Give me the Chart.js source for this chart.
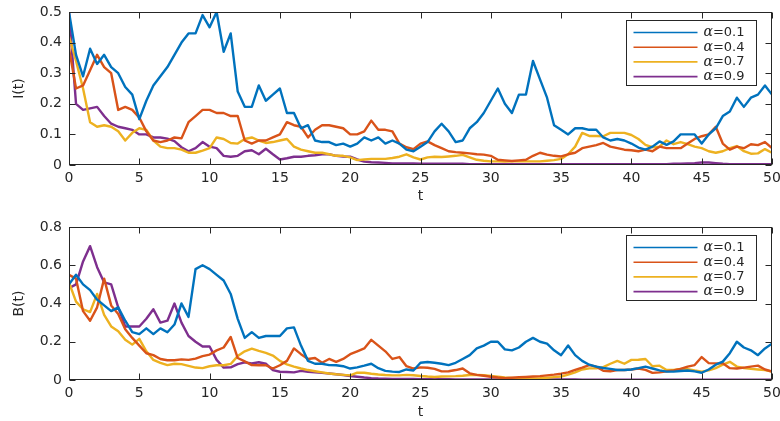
<!DOCTYPE html>
<html><head><meta charset="utf-8">
<script src="https://cdn.jsdelivr.net/npm/chart.js@4.4.0/dist/chart.umd.min.js"></script>
<style>
html,body{margin:0;padding:0;background:#fff;overflow:hidden;width:780px;height:421px}
canvas{position:absolute;left:0;display:block}
</style>
</head><body>
<canvas id="c1" width="780" height="210" style="top:0px"></canvas>
<canvas id="c2" width="780" height="211" style="top:210px"></canvas>
<script>
// ---- DATA ----
const tValues = [0,0.5,1,1.5,2,2.5,3,3.5,4,4.5,5,5.5,6,6.5,7,7.5,8,8.5,9,9.5,
10,10.5,11,11.5,12,12.5,13,13.5,14,14.5,15,15.5,16,16.5,17,17.5,18,18.5,19,19.5,
20,20.5,21,21.5,22,22.5,23,23.5,24,24.5,25,25.5,26,26.5,27,27.5,28,28.5,29,29.5,
30,30.5,31,31.5,32,32.5,33,33.5,34,34.5,35,35.5,36,36.5,37,37.5,38,38.5,39,39.5,
40,40.5,41,41.5,42,42.5,43,43.5,44,44.5,45,45.5,46,46.5,47,47.5,48,48.5,49,49.5,50];

const seriesLabels = ['α=0.1','α=0.4','α=0.7','α=0.9'];

const I_a01 = [0.50,0.36,0.29,0.38,0.33,0.36,0.32,0.30,0.255,0.23,
0.15,0.21,0.26,0.29,0.32,0.36,0.40,0.43,0.43,0.49,
0.45,0.50,0.37,0.43,0.24,0.19,0.19,0.26,0.21,0.23,
0.25,0.17,0.17,0.12,0.13,0.08,0.075,0.075,0.065,0.07,
0.06,0.07,0.09,0.08,0.09,0.07,0.08,0.07,0.05,0.045,
0.06,0.075,0.11,0.135,0.11,0.075,0.08,0.12,0.14,0.17,
0.21,0.25,0.20,0.17,0.23,0.23,0.34,0.28,0.22,0.13,
0.115,0.10,0.12,0.12,0.115,0.115,0.09,0.08,0.085,0.08,
0.07,0.057,0.05,0.06,0.077,0.066,0.077,0.10,0.10,0.10,
0.07,0.10,0.12,0.16,0.175,0.22,0.19,0.22,0.23,0.26,
0.23];
const I_a04 = [0.38,0.25,0.26,0.31,0.36,0.32,0.30,0.18,0.19,0.18,
0.155,0.11,0.08,0.075,0.08,0.09,0.087,0.14,0.16,0.18,
0.18,0.17,0.17,0.16,0.16,0.08,0.07,0.08,0.08,0.09,
0.10,0.14,0.13,0.125,0.09,0.115,0.13,0.13,0.125,0.12,
0.10,0.10,0.11,0.145,0.115,0.115,0.11,0.07,0.058,0.052,
0.07,0.077,0.065,0.055,0.045,0.042,0.04,0.038,0.035,0.034,
0.03,0.017,0.015,0.013,0.015,0.017,0.03,0.04,0.034,0.03,
0.028,0.035,0.04,0.055,0.06,0.065,0.072,0.06,0.055,0.05,
0.048,0.045,0.05,0.045,0.06,0.055,0.055,0.055,0.07,0.085,
0.094,0.10,0.125,0.07,0.05,0.06,0.055,0.068,0.065,0.075,
0.055];
const I_a07 = [0.42,0.34,0.25,0.14,0.125,0.13,0.125,0.11,0.08,0.105,
0.12,0.115,0.08,0.06,0.055,0.055,0.05,0.04,0.04,0.047,
0.055,0.09,0.085,0.072,0.07,0.085,0.09,0.08,0.072,0.075,
0.08,0.085,0.06,0.05,0.045,0.04,0.04,0.035,0.03,0.03,
0.025,0.016,0.018,0.02,0.02,0.02,0.023,0.027,0.035,0.025,
0.018,0.025,0.027,0.026,0.028,0.03,0.033,0.025,0.017,0.014,
0.012,0.012,0.011,0.012,0.012,0.012,0.012,0.012,0.014,0.016,
0.02,0.035,0.06,0.105,0.095,0.095,0.094,0.105,0.105,0.105,
0.098,0.085,0.066,0.058,0.06,0.08,0.068,0.075,0.068,0.06,
0.055,0.045,0.04,0.045,0.055,0.062,0.045,0.037,0.038,0.052,
0.04];
const I_a09 = [0.50,0.20,0.18,0.185,0.19,0.16,0.135,0.125,0.12,0.115,
0.10,0.10,0.09,0.09,0.086,0.078,0.058,0.045,0.055,0.075,
0.06,0.055,0.03,0.027,0.03,0.045,0.048,0.035,0.053,0.035,
0.018,0.022,0.027,0.027,0.03,0.032,0.035,0.035,0.03,0.028,
0.027,0.018,0.011,0.009,0.008,0.007,0.005,0.005,0.005,0.005,
0.004,0.004,0.004,0.004,0.004,0.004,0.004,0.003,0.003,0.003,
0.003,0.003,0.003,0.003,0.003,0.003,0.003,0.003,0.003,0.003,
0.003,0.003,0.003,0.003,0.003,0.003,0.003,0.003,0.003,0.003,
0.003,0.003,0.003,0.003,0.003,0.003,0.004,0.004,0.005,0.006,
0.008,0.008,0.006,0.004,0.003,0.003,0.003,0.003,0.003,0.003,
0.003];

const B_a01 = [0.50,0.55,0.50,0.47,0.42,0.39,0.36,0.38,0.31,0.25,
0.24,0.27,0.24,0.27,0.25,0.29,0.40,0.33,0.58,0.60,
0.58,0.55,0.52,0.45,0.32,0.22,0.25,0.22,0.23,0.23,
0.23,0.27,0.275,0.18,0.10,0.085,0.085,0.078,0.077,0.072,
0.06,0.066,0.075,0.085,0.062,0.048,0.044,0.042,0.055,0.05,
0.09,0.094,0.09,0.085,0.078,0.09,0.11,0.13,0.165,0.18,
0.20,0.20,0.16,0.155,0.17,0.20,0.22,0.20,0.19,0.155,
0.13,0.18,0.13,0.10,0.08,0.07,0.063,0.058,0.052,0.052,
0.055,0.062,0.07,0.06,0.05,0.044,0.044,0.047,0.05,0.045,
0.038,0.055,0.08,0.096,0.14,0.20,0.17,0.155,0.13,0.165,
0.19];
const B_a04 = [0.55,0.53,0.36,0.31,0.38,0.53,0.39,0.345,0.265,0.22,
0.18,0.14,0.13,0.11,0.103,0.103,0.108,0.105,0.112,0.125,
0.133,0.155,0.17,0.225,0.115,0.097,0.078,0.077,0.077,0.06,
0.077,0.10,0.165,0.135,0.11,0.115,0.09,0.11,0.095,0.11,
0.135,0.15,0.165,0.21,0.18,0.15,0.11,0.12,0.072,0.06,
0.066,0.064,0.058,0.045,0.046,0.052,0.06,0.035,0.027,0.022,
0.017,0.013,0.01,0.012,0.014,0.016,0.018,0.02,0.024,0.028,
0.033,0.04,0.053,0.065,0.078,0.07,0.048,0.046,0.052,0.052,
0.055,0.06,0.053,0.037,0.04,0.045,0.05,0.058,0.07,0.078,
0.12,0.088,0.087,0.087,0.062,0.06,0.065,0.07,0.075,0.055,
0.044];
const B_a07 = [0.51,0.41,0.37,0.355,0.45,0.34,0.28,0.255,0.21,0.185,
0.215,0.15,0.105,0.09,0.078,0.085,0.083,0.074,0.065,0.062,
0.072,0.077,0.077,0.084,0.125,0.15,0.164,0.152,0.142,0.128,
0.10,0.082,0.07,0.06,0.052,0.046,0.04,0.034,0.03,0.027,
0.024,0.038,0.038,0.033,0.029,0.026,0.024,0.024,0.027,0.025,
0.021,0.018,0.016,0.018,0.019,0.02,0.022,0.026,0.027,0.025,
0.021,0.017,0.013,0.011,0.009,0.008,0.008,0.009,0.012,0.015,
0.018,0.028,0.04,0.055,0.061,0.061,0.067,0.085,0.10,0.085,
0.105,0.106,0.11,0.072,0.075,0.052,0.052,0.058,0.057,0.05,
0.044,0.05,0.062,0.08,0.095,0.07,0.063,0.058,0.055,0.052,
0.044];
const B_a09 = [0.48,0.50,0.62,0.70,0.59,0.51,0.50,0.38,0.28,0.28,
0.28,0.32,0.37,0.30,0.31,0.40,0.30,0.23,0.20,0.175,
0.175,0.105,0.065,0.066,0.083,0.092,0.086,0.093,0.085,0.052,
0.043,0.042,0.04,0.048,0.043,0.04,0.037,0.034,0.03,0.026,
0.021,0.017,0.013,0.01,0.008,0.007,0.006,0.005,0.005,0.005,
0.004,0.004,0.004,0.004,0.004,0.003,0.003,0.003,0.003,0.003,
0.003,0.003,0.003,0.003,0.003,0.003,0.003,0.003,0.003,0.003,
0.003,0.003,0.003,0.002,0.002,0.002,0.002,0.002,0.002,0.002,
0.002,0.002,0.002,0.002,0.002,0.002,0.002,0.002,0.002,0.002,
0.002,0.002,0.002,0.002,0.002,0.002,0.002,0.002,0.002,0.002,
0.002];

// ---- STYLE ----
const COLORS = ['#0072BD','#D95319','#EDB120','#7E2F8E'];
const FONT = "'DejaVu Sans', 'Liberation Sans', Arial, sans-serif";
const TXT = '#262626';

const frame = {
  id: 'frame',
  afterDatasetsDraw(chart) {
    const ctx = chart.ctx, a = chart.chartArea;
    const L = Math.round(a.left) + 0.5, R = Math.round(a.right) - 0.5;
    const T = Math.round(a.top) + 0.5, B = Math.round(a.bottom) - 0.5;
    ctx.save();
    ctx.strokeStyle = TXT; ctx.lineWidth = 1;
    ctx.strokeRect(L, T, R - L, B - T);
    const tl = 6;
    ctx.beginPath();
    chart.scales.x.ticks.forEach(tk => {
      const px = Math.round(chart.scales.x.getPixelForValue(tk.value)) + 0.5;
      ctx.moveTo(px, B); ctx.lineTo(px, B - tl);
      ctx.moveTo(px, T); ctx.lineTo(px, T + tl);
    });
    chart.scales.y.ticks.forEach(tk => {
      const py = Math.round(chart.scales.y.getPixelForValue(tk.value)) + 0.5;
      ctx.moveTo(L, py); ctx.lineTo(L + tl, py);
      ctx.moveTo(R, py); ctx.lineTo(R - tl, py);
    });
    ctx.stroke();
    ctx.restore();
  },
  afterDraw(chart) {
    const ctx = chart.ctx, a = chart.chartArea;
    const w = 130, h = 65;
    const x0 = Math.round(a.right) - 16 - w + 0.5, y0 = Math.round(a.top) + 8 + 0.5;
    ctx.save();
    ctx.fillStyle = '#fff';
    ctx.fillRect(x0, y0, w, h);
    ctx.strokeStyle = TXT; ctx.lineWidth = 1;
    ctx.strokeRect(x0, y0, w, h);
    chart.data.datasets.forEach((ds, i) => {
      const y = y0 + 12 + i * 14.7;
      ctx.strokeStyle = ds.borderColor; ctx.lineWidth = 1.6;
      ctx.beginPath(); ctx.moveTo(x0 + 7, y); ctx.lineTo(x0 + 71, y); ctx.stroke();
      const lab = ds.label;
      ctx.fillStyle = TXT; ctx.textBaseline = 'middle'; ctx.textAlign = 'left';
      ctx.font = "italic 14px 'DejaVu Serif', serif";
      const g = lab.charAt(0);
      ctx.fillText(g, x0 + 77, y);
      const gw = ctx.measureText(g).width;
      ctx.font = "13px " + FONT;
      ctx.fillText(lab.slice(1), x0 + 77 + gw, y);
    });
    ctx.restore();
  }
};

function makeChart(id, series, yMax, yStep, yLabel, padTop, xAxisH, xTitlePad) {
  const datasets = series.map((s, i) => ({
    label: seriesLabels[i],
    data: tValues.map((t, k) => ({x: t, y: s[k]})),
    borderColor: COLORS[i],
    backgroundColor: COLORS[i],
    borderWidth: 2.4,
    borderJoinStyle: 'round',
    pointRadius: 0,
    tension: 0,
    fill: false
  }));
  return new Chart(document.getElementById(id), {
    type: 'line',
    data: { datasets },
    options: {
      responsive: false,
      animation: false,
      devicePixelRatio: 1,
      layout: { padding: { left: 0, right: 8, top: padTop, bottom: 0 } },
      plugins: { legend: { display: false }, tooltip: { enabled: false } },
      scales: {
        x: {
          type: 'linear', min: 0, max: 50,
          ticks: { stepSize: 5, color: TXT, font: { family: FONT, size: 14 }, padding: 5, maxRotation: 0, autoSkip: false },
          grid: { display: false, drawTicks: false },
          border: { display: false },
          title: { display: true, text: 't', color: TXT, font: { family: FONT, size: 14 }, padding: { top: 0, bottom: xTitlePad } },
          afterFit(s) { s.height = xAxisH; s.paddingLeft = 0; s.paddingRight = 0; }
        },
        y: {
          type: 'linear', min: 0, max: yMax,
          ticks: { stepSize: yStep, color: TXT, font: { family: FONT, size: 14 }, padding: 7,
                   callback: v => String(+v.toFixed(2)) },
          grid: { display: false, drawTicks: false },
          border: { display: false },
          title: { display: true, text: yLabel, color: TXT, font: { family: FONT, size: 14 }, padding: { top: 11, bottom: 0 } },
          afterFit(s) { s.width = 69; s.paddingTop = 0; s.paddingBottom = 0; }
        }
      }
    },
    plugins: [frame]
  });
}

makeChart('c1', [I_a01, I_a04, I_a07, I_a09], 0.5, 0.1, 'I(t)', 12, 45, 5);
makeChart('c2', [B_a01, B_a04, B_a07, B_a09], 0.8, 0.2, 'B(t)', 17, 41, 0);
</script>
</body></html>
